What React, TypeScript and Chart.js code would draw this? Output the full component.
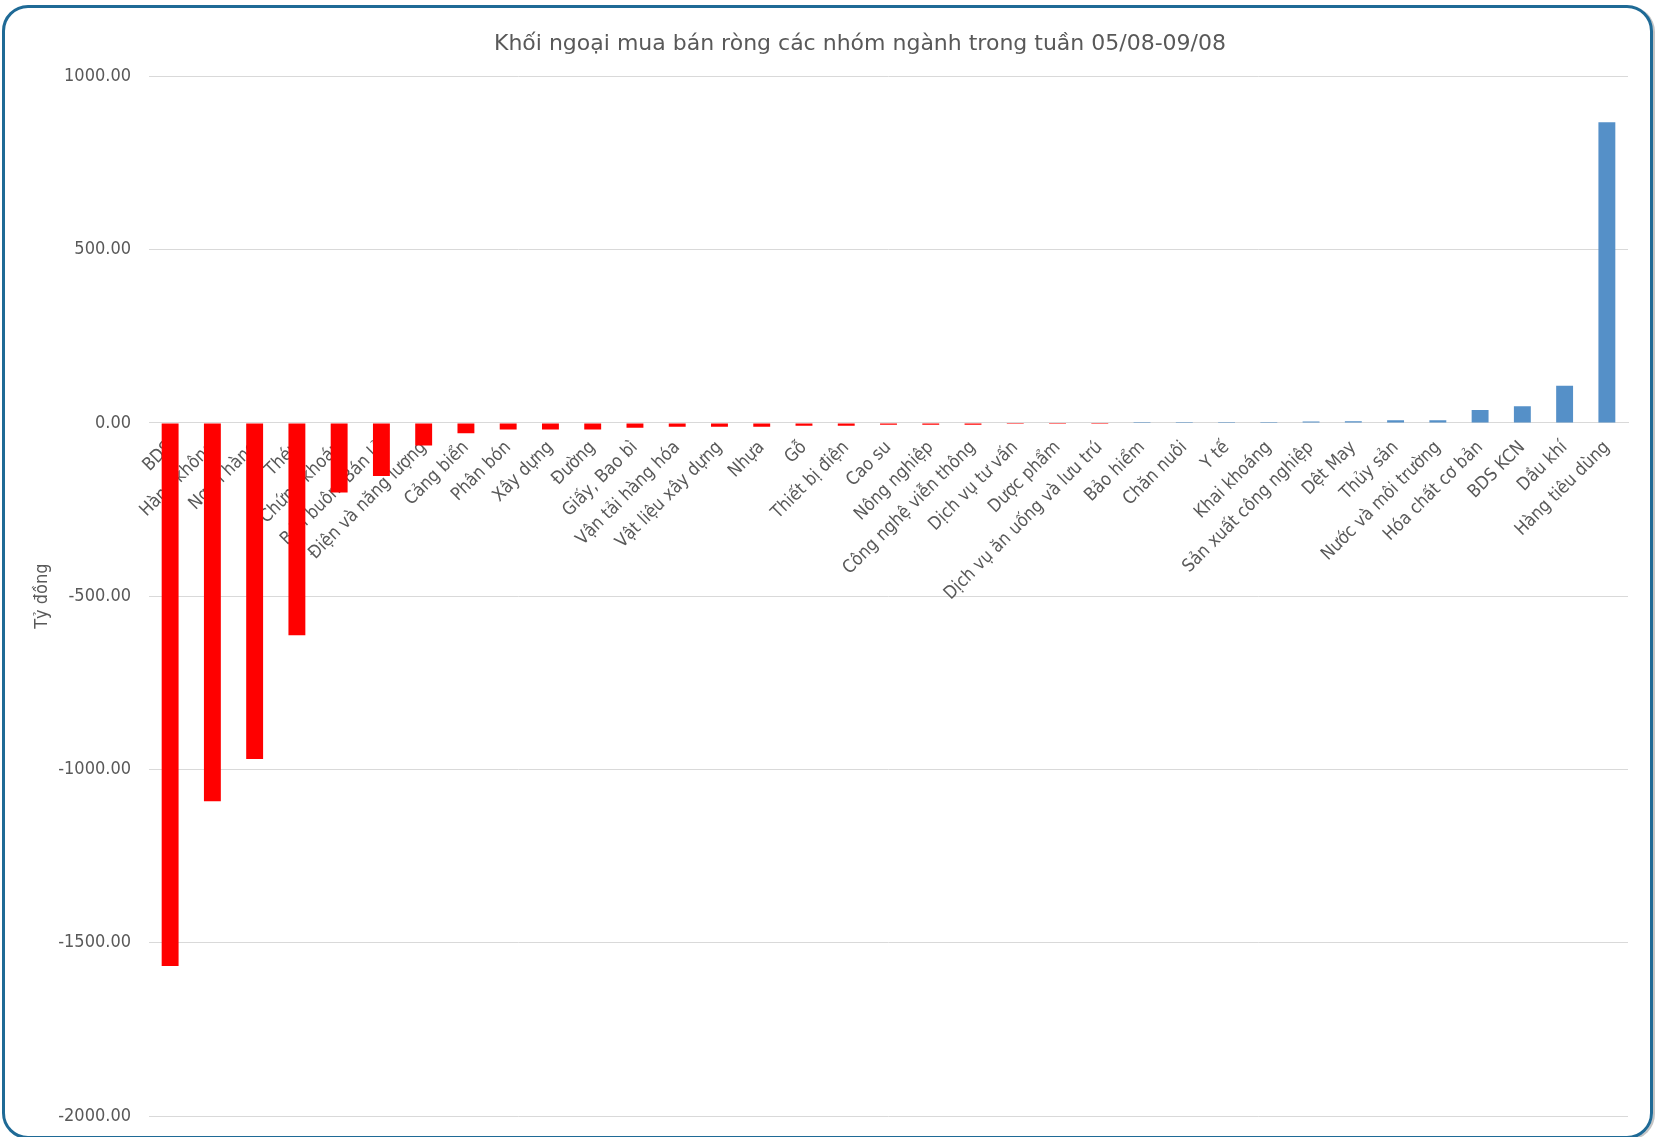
import { useEffect, useRef } from 'react';
import { Chart, registerables } from 'chart.js';
import type { Plugin } from 'chart.js';

Chart.register(...registerables);

const title = 'Khối ngoại mua bán ròng các nhóm ngành trong tuần 05/08-09/08';
const yAxisTitle = 'Tỷ đồng';

const sectors = [
    'BDS',
    'Hàng không',
    'Ngân hàng',
    'Thép',
    'Chứng khoán',
    'Bán buôn, Bán lẻ',
    'Điện và năng lượng',
    'Cảng biển',
    'Phân bón',
    'Xây dựng',
    'Đường',
    'Giấy, Bao bì',
    'Vận tải hàng hóa',
    'Vật liệu xây dựng',
    'Nhựa',
    'Gỗ',
    'Thiết bị điện',
    'Cao su',
    'Nông nghiệp',
    'Công nghệ viễn thông',
    'Dịch vụ tư vấn',
    'Dược phẩm',
    'Dịch vụ ăn uống và lưu trú',
    'Bảo hiểm',
    'Chăn nuôi',
    'Y tế',
    'Khai khoáng',
    'Sản xuất công nghiệp',
    'Dệt May',
    'Thủy sản',
    'Nước và môi trường',
    'Hóa chất cơ bản',
    'BDS KCN',
    'Dầu khí',
    'Hàng tiêu dùng',
];

// net buy (+) / net sell (-), tỷ đồng
const netValues = [
    -1567, -1092, -970, -613, -201, -153, -65, -30, -19, -19, -19, -14, -11, -11, -11, -8, -8,
    -5, -5, -5, -3, -3, -3, 3, 3, 3, 3, 4, 5, 8, 8, 37, 48, 107, 868,
];

const yMin = -2000;
const yMax = 1000;
const yStep = 500;

const FONT = "'DejaVu Sans Condensed', 'Liberation Sans', sans-serif";
const TITLE_FONT = "'DejaVu Sans', sans-serif";
const TEXT = '#595959';
const GRID = '#d9d9d9';
const RED = '#ff0000';
const BLUE = '#5590c8';

// Excel centres the title a bit right of the canvas middle
const titleOffset: Plugin<'bar'> = {
    id: 'titleOffset',
    afterLayout(chart) {
        const block = (chart as any).titleBlock;
        if (block) block.left = 92;
    },
};

export default function App() {
    const canvasRef = useRef<HTMLCanvasElement>(null);
    const chartRef = useRef<Chart | null>(null);

    useEffect(() => {
        if (!canvasRef.current) return;
        if (chartRef.current) chartRef.current.destroy();

        chartRef.current = new Chart(canvasRef.current, {
            type: 'bar',
            plugins: [titleOffset],
            data: {
                labels: sectors,
                datasets: [
                    {
                        label: 'Giá trị ròng',
                        data: netValues,
                        backgroundColor: netValues.map((v) => (v < 0 ? RED : BLUE)),
                        borderWidth: 0,
                        categoryPercentage: 1,
                        barPercentage: 0.4,
                    },
                ],
            },
            options: {
                responsive: true,
                maintainAspectRatio: false,
                animation: false,
                layout: { padding: { top: 0, right: 28, bottom: 21, left: 0 } },
                plugins: {
                    legend: { display: false },
                    tooltip: { enabled: false },
                    title: {
                        display: true,
                        text: title,
                        color: TEXT,
                        font: { family: TITLE_FONT, size: 22, weight: 'normal' },
                        padding: { top: 31, bottom: 19 },
                    },
                },
                scales: {
                    x: {
                        position: { y: 0 },
                        grid: { display: false, drawTicks: false },
                        border: { display: true, color: GRID, width: 1 },
                        ticks: {
                            autoSkip: false,
                            maxRotation: 45,
                            minRotation: 45,
                            padding: 14,
                            color: TEXT,
                            font: { family: FONT, size: 18 },
                        },
                    },
                    y: {
                        min: yMin,
                        max: yMax,
                        afterFit: (scale) => {
                            scale.width = 149;
                            scale.paddingTop = 0;
                            scale.paddingBottom = 0;
                        },
                        grid: { color: GRID, drawTicks: false },
                        border: { display: false },
                        ticks: {
                            stepSize: yStep,
                            padding: 18,
                            color: TEXT,
                            font: { family: FONT, size: 18 },
                            callback: (v) => Number(v).toFixed(2),
                        },
                        title: {
                            display: true,
                            text: yAxisTitle,
                            color: TEXT,
                            font: { family: FONT, size: 18 },
                            padding: { top: 32, bottom: 0 },
                        },
                    },
                },
            },
        });

        return () => {
            chartRef.current?.destroy();
            chartRef.current = null;
        };
    }, []);

    return (
        <div
            style={{
                position: 'fixed',
                left: 0,
                top: 0,
                width: 1656,
                height: 1137,
                background: '#fff',
                overflow: 'hidden',
            }}
        >
            <div style={{ position: 'absolute', left: 0, top: 0, width: 1656, height: 1137 }}>
                <canvas ref={canvasRef} />
            </div>
            <div
                style={{
                    position: 'absolute',
                    left: 2,
                    top: 5,
                    width: 1645,
                    height: 1128,
                    border: '3px solid #1f6a96',
                    borderRadius: 26,
                    boxShadow: '2px 1px 0 #c4c4c4',
                    pointerEvents: 'none',
                }}
            />
        </div>
    );
}
